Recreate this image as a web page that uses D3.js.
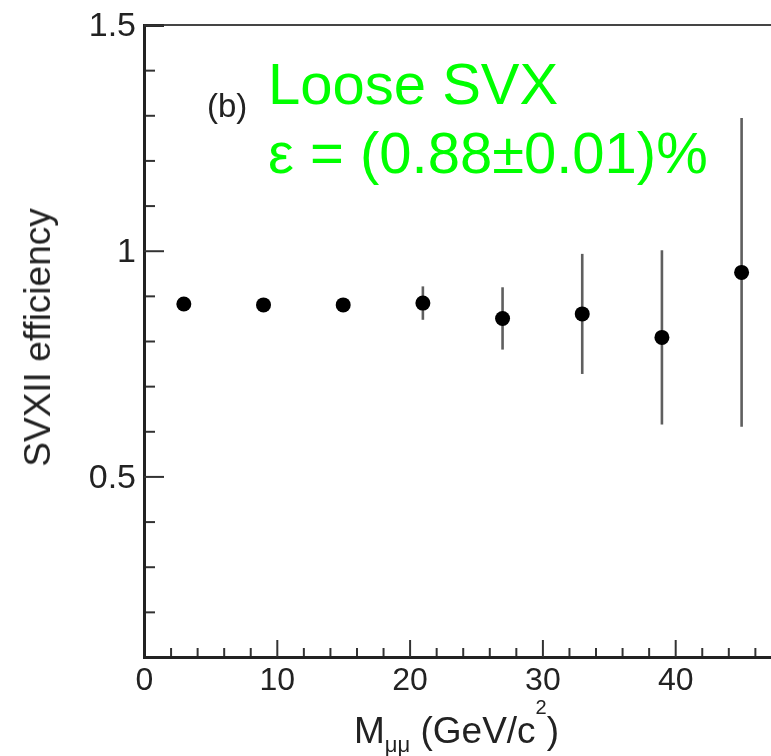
<!DOCTYPE html>
<html>
<head>
<meta charset="utf-8">
<script src="https://cdn.jsdelivr.net/npm/d3@7/dist/d3.min.js"></script>
<style>
  html, body { margin: 0; padding: 0; background: #fff; }
  svg { display: block; }
  text { font-family: "Liberation Sans", Arial, Helvetica, sans-serif; }
</style>
</head>
<body>
<svg id="chart" width="771" height="756"></svg>
<script>
// Dimuon invariant-mass bins (bin centres, GeV/c^2)
const massBins = [3, 9, 15, 21, 27, 33, 39, 45];
// SVXII efficiency per bin and its symmetric uncertainty
const efficiency = [0.882, 0.880, 0.880, 0.884, 0.850, 0.860, 0.808, 0.952];
const efficiencyErr = [0.004, 0.005, 0.005, 0.037, 0.069, 0.133, 0.193, 0.342];
// Axis ticks
const xMajorTicks = [0, 10, 20, 30, 40];
const xMinorTicks = [2, 4, 6, 8, 12, 14, 16, 18, 22, 24, 26, 28, 32, 34, 36, 38, 42, 44, 46];
const yMajorTicks = [0.5, 1, 1.5];
const yMinorTicks = [0.2, 0.3, 0.4, 0.6, 0.7, 0.8, 0.9, 1.1, 1.2, 1.3, 1.4];
const yTickLabels = ["0.5", "1", "1.5"];
// Annotation
const panelLabel = "(b)";
const legendLines = ["Loose SVX", "ε = (0.88±0.01)%"];

const svg = d3.select("#chart");
svg.append("rect").attr("width", 771).attr("height", 756).attr("fill", "#fff");

const defs = svg.append("defs");
defs.append("filter").attr("id", "soft")
  .attr("x", "-5%").attr("y", "-5%").attr("width", "110%").attr("height", "110%")
  .append("feGaussianBlur").attr("stdDeviation", 0.55);

// The frame runs past the right edge of the page; only the left part is shown.
const plotLeft = 144, plotBottom = 657, plotTop = 25, pxPerGeV = 13.28;
const x = d3.scaleLinear().domain([0, 48]).range([plotLeft, plotLeft + 48 * pxPerGeV]);
const y = d3.scaleLinear().domain([0.1, 1.5]).range([plotBottom, plotTop]);

const g = svg.append("g").attr("filter", "url(#soft)");

// Top frame line
g.append("line")
  .attr("x1", plotLeft).attr("x2", x(48))
  .attr("y1", y(1.5)).attr("y2", y(1.5))
  .attr("stroke", "#444").attr("stroke-width", 2.2);

// X axis: minor ticks, then major ticks with labels
const xMinor = g.append("g").attr("transform", `translate(0,${plotBottom})`)
  .call(d3.axisBottom(x).tickValues(xMinorTicks).tickSize(-9).tickFormat(""));
const xMajor = g.append("g").attr("transform", `translate(0,${plotBottom})`)
  .call(d3.axisBottom(x).tickValues(xMajorTicks).tickSize(-17).tickPadding(10).tickFormat(d3.format("d")));

// Y axis: minor ticks, then major ticks with labels
const yMinor = g.append("g").attr("transform", `translate(${plotLeft},0)`)
  .call(d3.axisLeft(y).tickValues(yMinorTicks).tickSize(-11).tickFormat(""));
const yMajor = g.append("g").attr("transform", `translate(${plotLeft},0)`)
  .call(d3.axisLeft(y).tickValues(yMajorTicks).tickSize(-20).tickPadding(8)
    .tickFormat((d, i) => yTickLabels[i]));

[xMinor, xMajor, yMinor, yMajor].forEach(ax => {
  ax.select(".domain").attr("stroke", "#222").attr("stroke-width", 3);
  ax.selectAll(".tick line").attr("stroke", "#333").attr("stroke-width", 2);
});
xMajor.selectAll(".tick text").attr("font-size", 32).attr("fill", "#222");
yMajor.selectAll(".tick text").attr("font-size", 34).attr("fill", "#222");

// Axis titles
g.append("text")
  .attr("transform", `translate(50,${(205 + 470) / 2}) rotate(-90)`)
  .attr("text-anchor", "middle")
  .attr("font-size", 37).attr("fill", "#222")
  .text("SVXII efficiency");

const xt = g.append("text")
  .attr("x", 354).attr("y", 743)
  .attr("font-size", 37).attr("fill", "#222");
xt.append("tspan").text("M");
xt.append("tspan").attr("font-size", 22).attr("dy", 9).text("μμ");
xt.append("tspan").attr("dy", -9).text(" (GeV/c");
xt.append("tspan").attr("font-size", 20).attr("dy", -29).text("2");
xt.append("tspan").attr("dy", 29).text(")");

// Panel label
g.append("text")
  .attr("x", 207).attr("y", 117)
  .attr("font-size", 33).attr("fill", "#222")
  .text(panelLabel);

// Data: error bars and markers
const pts = massBins.map((m, i) => ({ m, v: efficiency[i], e: efficiencyErr[i] }));
g.selectAll("line.err").data(pts).join("line")
  .attr("class", "err")
  .attr("x1", d => x(d.m)).attr("x2", d => x(d.m))
  .attr("y1", d => y(d.v + d.e)).attr("y2", d => y(d.v - d.e))
  .attr("stroke", "#5e5e5e").attr("stroke-width", 2.6);
g.selectAll("circle.pt").data(pts).join("circle")
  .attr("class", "pt")
  .attr("cx", d => x(d.m)).attr("cy", d => y(d.v))
  .attr("r", 7.5).attr("fill", "#000");

// Legend text (crisp, bright green)
const leg = svg.append("g");
leg.selectAll("text").data(legendLines).join("text")
  .attr("x", 268).attr("y", (d, i) => 104 + i * 69)
  .attr("font-size", 58).attr("fill", "#00ff00")
  .text(d => d);
</script>
</body>
</html>
